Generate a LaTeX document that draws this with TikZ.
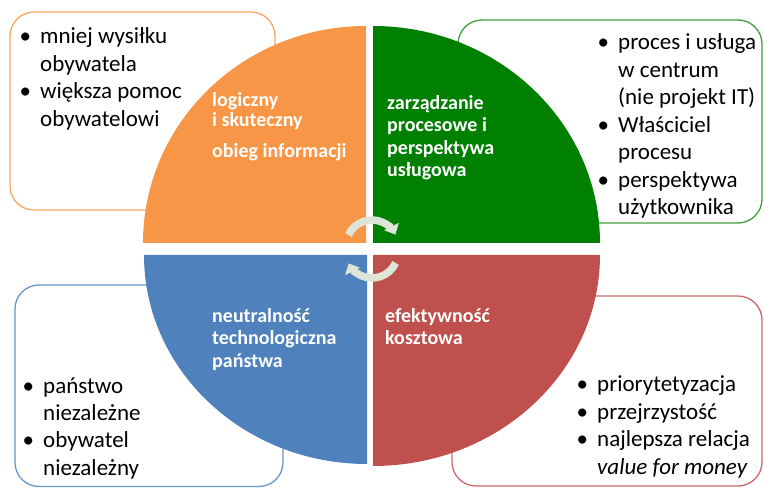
\documentclass[tikz,border=0pt]{standalone}
\usepackage{fontspec}
\setmainfont{Carlito}
\usetikzlibrary{arrows.meta}

\definecolor{qorange}{HTML}{F79646}
\definecolor{qgreen}{HTML}{008000}
\definecolor{qblue}{HTML}{4F81BD}
\definecolor{qred}{HTML}{C0504D}
\definecolor{cyclegray}{HTML}{DDE5D6}

% bullet hung to the left of the item text
\newcommand{\bul}{\llap{\textbullet\hspace{9pt}}}

\begin{document}
\begin{tikzpicture}[x=1pt,y=1pt,
  panel/.style={line width=1.3pt, rounded corners=24pt, fill=white},
  listtext/.style={anchor=base west, inner sep=0pt, text=black,
    font=\fontsize{23}{27.5}\selectfont},
  qlabel/.style={anchor=base west, inner sep=0pt, text=white,
    font=\fontsize{20}{22.5}\selectfont\bfseries},
  cyc/.style={line width=7.5pt, draw=cyclegray, -{Triangle[width=16pt,length=9pt]}}]
\useasboundingbox (0,0) rectangle (764,488);

% rounded side panels (partly covered by the disc)
\draw[panel, draw=qorange!85]  (10,278) rectangle (275,476);
\draw[panel, draw=qgreen!75]   (458,265) rectangle (762,468);
\draw[panel, draw=qblue!85]    (15,1.5) rectangle (283,203);
\draw[panel, draw=qred!85]     (452,2) rectangle (762,192);

% four quarters of the disc
\fill[qorange] (366,245) -- (366,462) arc[start angle=90, end angle=180, x radius=223pt, y radius=217pt] -- cycle;
\fill[qgreen]  (373,245) -- (600,245) arc[start angle=0, end angle=90, x radius=227pt, y radius=217pt] -- cycle;
\fill[qblue]   (367,233) -- (144,233) arc[start angle=180, end angle=270, x radius=223pt, y radius=209pt] -- cycle;
\fill[qred]    (373,233) -- (373,22) arc[start angle=270, end angle=360, x radius=227pt, y radius=211pt] -- cycle;

% cycle arrows in the centre
\coordinate (ctop) at (372,242);
\coordinate (cbot) at (372,236);
\draw[cyc] ([shift={(155:26)}]ctop) arc[start angle=155, end angle=26, radius=26pt];
\draw[cyc] ([shift={(-25:26)}]cbot) arc[start angle=-25, end angle=-154, radius=26pt];

% quarter labels
\node[qlabel] (lorange) at (212,381.8) {\begin{tabular}[t]{@{}l@{}}logiczny\\[-2pt] i skuteczny\\[8.5pt] obieg informacji\end{tabular}};
\node[qlabel] (lgreen) at (387,378.6) {\begin{tabular}[t]{@{}l@{}}zarządzanie\\ procesowe i\\ perspektywa\\ usługowa\end{tabular}};
\node[qlabel] (lblue) at (212,165.8) {\begin{tabular}[t]{@{}l@{}}neutralność\\ technologiczna\\ państwa\end{tabular}};
\node[qlabel] (lred) at (385,165.8) {\begin{tabular}[t]{@{}l@{}}efektywność\\ kosztowa\end{tabular}};

% bullet lists in the panels
\node[listtext] (torange) at (40,444) {\begin{tabular}[t]{@{}l@{}}\bul mniej wysiłku\\ obywatela\\ \bul większa pomoc\\ obywatelowi\end{tabular}};
\node[listtext] (tgreen) at (618,438) {\begin{tabular}[t]{@{}l@{}}\bul proces i usługa\\ w centrum\\ (nie projekt IT)\\ \bul Właściciel\\ procesu\\ \bul perspektywa\\ użytkownika\end{tabular}};
\node[listtext] (tblue) at (43,95) {\begin{tabular}[t]{@{}l@{}}\bul państwo\\ niezależne\\ \bul obywatel\\ niezależny\end{tabular}};
\node[listtext] (tred) at (597,96) {\begin{tabular}[t]{@{}l@{}}\bul priorytetyzacja\\ \bul przejrzystość\\ \bul najlepsza relacja\\ \textit{value for money}\end{tabular}};
\end{tikzpicture}
\end{document}
